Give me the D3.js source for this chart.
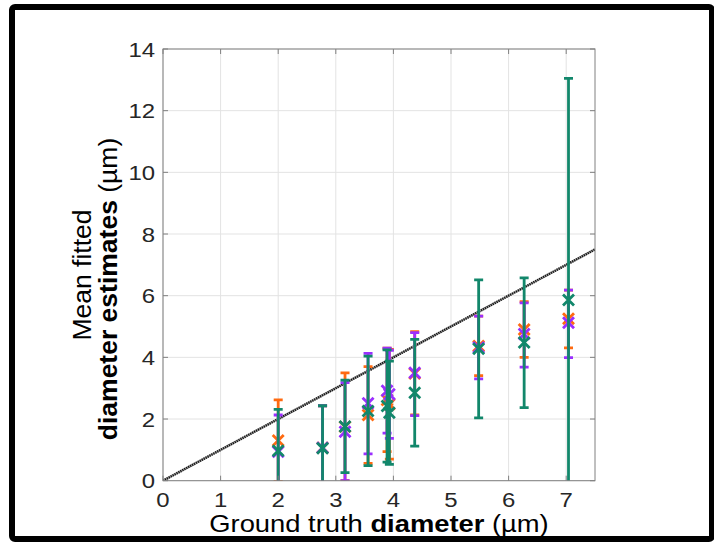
<!DOCTYPE html>
<html>
<head>
<meta charset="utf-8">
<script src="https://cdn.jsdelivr.net/npm/d3@7"></script>
<style>
  html, body { margin: 0; padding: 0; background: #fff; }
  svg { display: block; }
  text { font-family: "Liberation Sans", Arial, Helvetica, sans-serif; }
</style>
</head>
<body>
<svg id="chart" width="714" height="542"></svg>
<script>
// Ground-truth diameters (µm) of the test objects
const diameters = [2.0, 2.77, 3.16, 3.56, 3.89, 3.93, 4.37, 5.48, 6.27, 7.04];

// Series 1 (orange): mean estimate and error-bar limits
const orangeMean = [1.30, 1.07, 1.75, 2.13, 2.62, 2.48, 3.48, 4.37, 4.90, 5.25];
const orangeLow  = [-0.02, -0.29, 0.00, 0.56, 0.94, 0.70, 2.13, 3.41, 4.00, 4.31];
const orangeHigh = [2.62, 2.43, 3.50, 3.70, 4.30, 4.26, 4.83, 5.34, 5.81, 6.18];

// Series 2 (purple)
const purpleMean = [0.94, 1.07, 1.59, 2.51, 2.92, 2.80, 3.50, 4.32, 4.76, 5.12];
const purpleLow  = [-0.25, -0.29, 0.00, 0.87, 1.54, 1.37, 2.11, 3.30, 3.68, 3.99];
const purpleHigh = [2.13, 2.43, 3.18, 4.13, 4.30, 4.23, 4.80, 5.34, 5.77, 6.18];

// Series 3 (green)
const greenMean = [0.97, 1.05, 1.76, 2.26, 2.42, 2.20, 2.85, 4.28, 4.48, 5.86];
const greenLow  = [-0.37, -0.33, 0.26, 0.49, 0.60, 0.53, 1.12, 2.04, 2.37, -1.33];
const greenHigh = [2.31, 2.43, 3.26, 4.04, 4.24, 3.88, 4.58, 6.51, 6.58, 13.05];

const xTicks = [0, 1, 2, 3, 4, 5, 6, 7];
const yTicks = [0, 2, 4, 6, 8, 10, 12, 14];

const series = [
  { color: "#ff6a10", mean: orangeMean, low: orangeLow, high: orangeHigh },
  { color: "#9b2fff", mean: purpleMean, low: purpleLow, high: purpleHigh },
  { color: "#12876b", mean: greenMean,  low: greenLow,  high: greenHigh }
];

const svg = d3.select("#chart");
const pLeft = 163, pRight = 595, pTop = 49, pBottom = 480.7;
// the figure's text is rendered slightly wide
const sx = 1.14;

const x = d3.scaleLinear().domain([0, 7.5]).range([pLeft, pRight]);
const y = d3.scaleLinear().domain([0, 14]).range([pBottom, pTop]);

// outer figure frame
svg.append("rect")
  .attr("x", 12).attr("y", 7)
  .attr("width", 700).attr("height", 532)
  .attr("rx", 3)
  .attr("fill", "none").attr("stroke", "#000").attr("stroke-width", 6);

// grid
const grid = svg.append("g");
grid.selectAll("line.gx").data(xTicks).join("line")
  .attr("x1", d => x(d)).attr("x2", d => x(d))
  .attr("y1", pTop).attr("y2", pBottom)
  .attr("stroke", "#e3e3e3").attr("stroke-width", 1);
grid.selectAll("line.gy").data(yTicks).join("line")
  .attr("x1", pLeft).attr("x2", pRight)
  .attr("y1", d => y(d)).attr("y2", d => y(d))
  .attr("stroke", "#e3e3e3").attr("stroke-width", 1);

svg.append("clipPath").attr("id", "plotClip")
  .append("rect").attr("x", pLeft).attr("y", pTop)
  .attr("width", pRight - pLeft).attr("height", pBottom - pTop);

const plot = svg.append("g").attr("clip-path", "url(#plotClip)");

// identity reference line y = x
const diag = d3.line().x(d => x(d)).y(d => y(d));
plot.append("path").datum([0, 7.5]).attr("d", diag)
  .attr("fill", "none").attr("stroke", "#9a9a9a").attr("stroke-width", 2.4);
plot.append("path").datum([0, 7.5]).attr("d", diag)
  .attr("fill", "none").attr("stroke", "#111").attr("stroke-width", 2.4)
  .attr("stroke-dasharray", "1.1,1.1");

// error bars with X markers
const capHalf = 4.5, mk = 5.5;
series.forEach(s => {
  const g = plot.append("g")
    .attr("stroke", s.color).attr("stroke-width", 2.8).attr("fill", "none");
  diameters.forEach((d, i) => {
    const cx = x(d);
    g.append("line").attr("x1", cx).attr("x2", cx)
      .attr("y1", y(s.low[i])).attr("y2", y(s.high[i]));
    [s.low[i], s.high[i]].forEach(v => {
      g.append("line").attr("x1", cx - capHalf).attr("x2", cx + capHalf)
        .attr("y1", y(v)).attr("y2", y(v));
    });
    const cy = y(s.mean[i]);
    g.append("path")
      .attr("d", `M${cx - mk},${cy - mk}L${cx + mk},${cy + mk}M${cx - mk},${cy + mk}L${cx + mk},${cy - mk}`);
  });
});

// axes box and inward ticks
const axisColor = "#808080";
svg.append("rect").attr("x", pLeft).attr("y", pTop)
  .attr("width", pRight - pLeft).attr("height", pBottom - pTop)
  .attr("fill", "none").attr("stroke", axisColor).attr("stroke-width", 1);
const tl = 5;
const ticks = svg.append("g").attr("stroke", axisColor).attr("stroke-width", 1);
xTicks.forEach(t => {
  ticks.append("line").attr("x1", x(t)).attr("x2", x(t)).attr("y1", pBottom).attr("y2", pBottom - tl);
  ticks.append("line").attr("x1", x(t)).attr("x2", x(t)).attr("y1", pTop).attr("y2", pTop + tl);
});
yTicks.forEach(t => {
  ticks.append("line").attr("x1", pLeft).attr("x2", pLeft + tl).attr("y1", y(t)).attr("y2", y(t));
  ticks.append("line").attr("x1", pRight).attr("x2", pRight - tl).attr("y1", y(t)).attr("y2", y(t));
});

// tick labels
const tickFont = 21;
svg.append("g").selectAll("text").data(xTicks).join("text")
  .attr("transform", d => `translate(${x(d)},507) scale(${sx},1)`)
  .attr("text-anchor", "middle").attr("font-size", tickFont).attr("fill", "#262626")
  .text(d => d);
svg.append("g").selectAll("text").data(yTicks).join("text")
  .attr("transform", d => `translate(155,${y(d) + 7.5}) scale(${sx},1)`)
  .attr("text-anchor", "end").attr("font-size", tickFont).attr("fill", "#262626")
  .text(d => d);

// axis titles
const labelFont = 24;
const xl = svg.append("text")
  .attr("transform", `translate(${(pLeft + pRight) / 2},532) scale(${sx},1)`)
  .attr("text-anchor", "middle").attr("font-size", labelFont).attr("fill", "#000");
xl.append("tspan").text("Ground truth ");
xl.append("tspan").attr("font-weight", "bold").text("diameter");
xl.append("tspan").text(" (µm)");

const yLabelFont = 26.5;
svg.append("text")
  .attr("transform", "translate(91,275) rotate(-90)")
  .attr("text-anchor", "middle").attr("font-size", yLabelFont).attr("fill", "#000")
  .text("Mean fitted");
const yl2 = svg.append("text")
  .attr("transform", "translate(117,289) rotate(-90)")
  .attr("text-anchor", "middle").attr("font-size", yLabelFont).attr("fill", "#000");
yl2.append("tspan").attr("font-weight", "bold").text("diameter estimates");
yl2.append("tspan").text(" (µm)");
</script>
</body>
</html>
